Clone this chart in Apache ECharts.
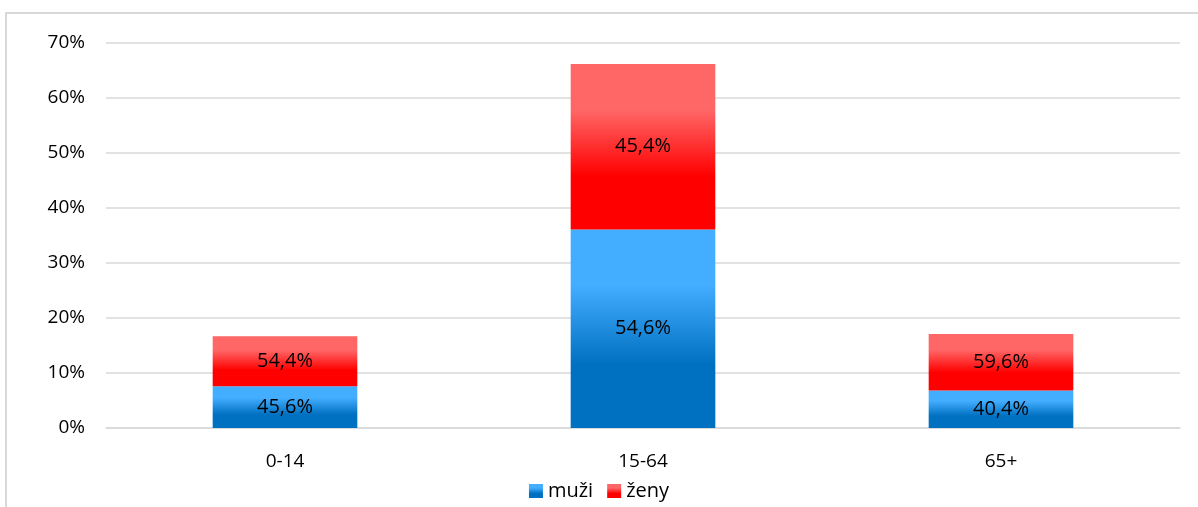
<!DOCTYPE html>
<html>
<head>
<meta charset="utf-8">
<script src="https://cdn.jsdelivr.net/npm/echarts@6/dist/echarts.min.js"></script>
<style>
  html, body { margin: 0; padding: 0; background: #fff; }
  #chart { width: 1198px; height: 507px; }
</style>
</head>
<body>
<div id="chart"></div>
<script>
// age groups
const categories = ['0-14', '15-64', '65+']
// bar heights: share of whole population (%)
const muziValues = [7.6, 36.1, 6.8]
const zenyValues = [9.1, 30.1, 10.3]
// labels shown inside the bars: share within the age group
const muziLabels = ['45,6%', '54,6%', '40,4%']
const zenyLabels = ['54,4%', '45,4%', '59,6%']

const font = 'Open Sans'

function grad(light, dark) {
  return new echarts.graphic.LinearGradient(0, 0, 0, 1, [
    { offset: 0, color: light },
    { offset: 0.28, color: light },
    { offset: 0.68, color: dark },
    { offset: 1, color: dark }
  ])
}

const chart = echarts.init(document.getElementById('chart'))
chart.setOption({
  animation: false,
  textStyle: { fontFamily: font },
  graphic: [{
    type: 'rect',
    shape: { x: 6, y: 13, width: 1300, height: 600 },
    style: { fill: 'none', stroke: '#d9d9d9', lineWidth: 2 },
    silent: true
  }],
  grid: { left: 106, right: 18, top: 43, bottom: 79, containLabel: false },
  legend: {
    bottom: 1,
    left: 'center',
    itemWidth: 14,
    itemHeight: 14,
    itemGap: 14,
    textStyle: { fontSize: 20, color: '#000', fontFamily: font },
    data: [
      { name: 'muži', icon: 'rect' },
      { name: 'ženy', icon: 'rect' }
    ]
  },
  xAxis: {
    type: 'category',
    data: categories,
    axisTick: { show: false },
    axisLine: { show: true, lineStyle: { color: '#d9d9d9', width: 1.5 } },
    axisLabel: { fontSize: 19, color: '#000', margin: 24, fontFamily: font }
  },
  yAxis: {
    type: 'value',
    min: 0,
    max: 70,
    interval: 10,
    axisLine: { show: false },
    axisTick: { show: false },
    axisLabel: { formatter: '{value}%', fontSize: 19, color: '#000', margin: 21, fontFamily: font },
    splitLine: { lineStyle: { color: '#d9d9d9', width: 1.5 } }
  },
  series: [
    {
      name: 'muži',
      type: 'bar',
      stack: 'total',
      barWidth: '40.4%',
      data: muziValues,
      itemStyle: { color: grad('#43adff', '#0070c0') },
      label: {
        show: true,
        position: 'inside',
        fontSize: 20,
        color: '#000',
        fontFamily: font,
        formatter: p => muziLabels[p.dataIndex]
      }
    },
    {
      name: 'ženy',
      type: 'bar',
      stack: 'total',
      data: zenyValues,
      itemStyle: { color: grad('#ff6666', '#ff0000') },
      label: {
        show: true,
        position: 'inside',
        fontSize: 20,
        color: '#000',
        fontFamily: font,
        formatter: p => zenyLabels[p.dataIndex]
      }
    }
  ]
})
</script>
</body>
</html>
